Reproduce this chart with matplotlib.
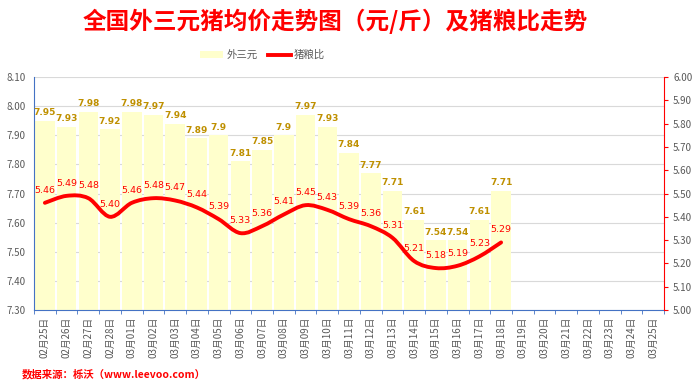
import numpy as np
import matplotlib.pyplot as plt
from matplotlib.path import Path
from matplotlib.patches import PathPatch, Patch
from matplotlib.lines import Line2D

plt.rcParams['font.family'] = ['Noto Sans CJK SC', 'DejaVu Sans']

# dates 02-25 .. 03-25
dates = ['02月25日', '02月26日', '02月27日', '02月28日'] + ['03月%02d日' % d for d in range(1, 26)]

# 外三元 price (yuan/jin)
price = [7.95, 7.93, 7.98, 7.92, 7.98, 7.97, 7.94, 7.89, 7.9, 7.81, 7.85,
         7.9, 7.97, 7.93, 7.84, 7.77, 7.71, 7.61, 7.54, 7.54, 7.61, 7.71]
price_labels = ['7.95', '7.93', '7.98', '7.92', '7.98', '7.97', '7.94', '7.89', '7.9', '7.81', '7.85',
                '7.9', '7.97', '7.93', '7.84', '7.77', '7.71', '7.61', '7.54', '7.54', '7.61', '7.71']

# 猪粮比
ratio = [5.46, 5.49, 5.48, 5.40, 5.46, 5.48, 5.47, 5.44, 5.39, 5.33, 5.36,
         5.41, 5.45, 5.43, 5.39, 5.36, 5.31, 5.21, 5.18, 5.19, 5.23, 5.29]

gray = '#595959'
blue = '#4472C4'
red = '#FF0000'

fig = plt.figure(figsize=(7, 3.88), dpi=100)
ax = fig.add_axes([0.0486, 0.201, 0.9, 0.6005])
ax2 = ax.twinx()

x = np.arange(len(dates))
xb = np.arange(len(price))
ax.bar(xb, [p - 7.3 for p in price], bottom=7.3, width=0.9, color='#FFFFCC', zorder=2)
for xi, p, lab in zip(xb, price, price_labels):
    ax.text(xi, p + 0.012, lab, ha='center', va='bottom', fontsize=6.5,
            fontweight='bold', color='#BF9000', family='DejaVu Sans', zorder=5)

ax.set_ylim(7.3, 8.1)
ax.set_yticks(np.arange(7.3, 8.101, 0.1))
ax.set_yticklabels(['%.2f' % v for v in np.arange(7.3, 8.101, 0.1)])
ax.set_xlim(-0.5, len(dates) - 0.5)
ax.set_xticks(x)
ax.set_xticklabels(dates, rotation=90, fontsize=7, color=gray)
ax.set_xticks(np.arange(-0.5, len(dates), 1), minor=True)
ax.tick_params(axis='x', which='major', length=0, pad=5)
ax.tick_params(axis='x', which='minor', length=3, color=blue, direction='out')
ax.tick_params(axis='y', labelsize=7, labelcolor=gray, length=0, pad=6)
ax.grid(axis='y', color='#D9D9D9', linewidth=0.8, zorder=0)
ax.set_axisbelow(True)
for s in ['top', 'right']:
    ax.spines[s].set_visible(False)
ax.spines['left'].set_color(blue)
ax.spines['bottom'].set_color(blue)
ax.spines['bottom'].set_zorder(6)

# smooth line (Catmull-Rom as bezier path)
pts = np.column_stack([xb, ratio])
verts = [tuple(pts[0])]
codes = [Path.MOVETO]
for i in range(len(pts) - 1):
    p0 = pts[i - 1] if i > 0 else pts[i]
    p1 = pts[i]
    p2 = pts[i + 1]
    p3 = pts[i + 2] if i + 2 < len(pts) else pts[i + 1]
    c1 = p1 + (p2 - p0) / 6
    c2 = p2 - (p3 - p1) / 6
    verts += [tuple(c1), tuple(c2), tuple(p2)]
    codes += [Path.CURVE4] * 3
ax2.add_patch(PathPatch(Path(verts, codes), facecolor='none', edgecolor=red,
                        linewidth=2.8, zorder=4, capstyle='round', joinstyle='round'))
for xi, r in zip(xb, ratio):
    ax2.text(xi, r + 0.035, '%.2f' % r, ha='center', va='bottom', fontsize=6.8,
             color=red, family='DejaVu Sans', zorder=5)

ax2.set_ylim(5.0, 6.0)
ax2.set_yticks(np.arange(5.0, 6.001, 0.1))
ax2.set_yticklabels(['%.2f' % v for v in np.arange(5.0, 6.001, 0.1)])
ax2.tick_params(axis='y', labelsize=7, labelcolor=gray, length=3, color=red)
for s in ['top', 'left', 'bottom']:
    ax2.spines[s].set_visible(False)
ax2.spines['right'].set_color(red)

handles = [Patch(facecolor='#FFFFCC', label='外三元'),
           Line2D([], [], color=red, linewidth=2.8, label='猪粮比')]
fig.legend(handles=handles, loc='center', bbox_to_anchor=(0.375, 0.858), ncol=2,
           frameon=False, fontsize=7.5, labelcolor=gray, handlelength=2.2,
           handleheight=0.6, columnspacing=1.0, handletextpad=0.3)

fig.text(0.479, 0.945, '全国外三元猪均价走势图（元/斤）及猪粮比走势', ha='center', va='center',
         fontsize=17, fontweight='bold', color=red)
fig.text(0.031, 0.036, '数据来源：栎沃（www.leevoo.com）', ha='left', va='center',
         fontsize=7.5, fontweight='bold', color=red)

fig.savefig('out.png', dpi=100)
